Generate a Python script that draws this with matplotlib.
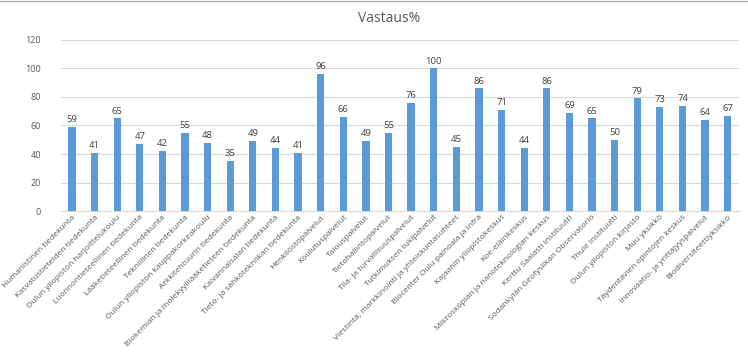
import matplotlib
matplotlib.use("Agg")
import matplotlib.pyplot as plt
from matplotlib.lines import Line2D

categories = [
    "Humanistinen tiedekunta",
    "Kasvatustieteiden tiedekunta",
    "Oulun yliopiston harjoittelukoulu",
    "Luonnontieteellinen tiedekunta",
    "Lääketieteellinen tiedekunta",
    "Teknillinen tiedekunta",
    "Oulun yliopiston kauppakorkeakoulu",
    "Arkkitehtuurin tiedekunta",
    "Biokemian ja molekyylilääketieteen tiedekunta",
    "Kaivannaisalan tiedekunta",
    "Tieto- ja sähkötekniikan tiedekunta",
    "Henkilöstöpalvelut",
    "Koulutuspalvelut",
    "Talouspalvelut",
    "Tietohallintopalvelut",
    "Tila- ja turvallisuuspalvelut",
    "Tutkimuksen tukipalvelut",
    "Viestintä, markkinointi ja yhteiskuntasuhteet",
    "Biocenter Oulu painoala ja Infra",
    "Kajaanin yliopistokeskus",
    "Koe-eläinkeskus",
    "Mikroskopian ja nanoteknologian keskus",
    "Kerttu Saalasti instituutti",
    "Sodankylän Geofysiikan Observatorio",
    "Thule instituutti",
    "Oulun yliopiston kirjasto",
    "Muu yksikkö",
    "Täydentävien opintojen keskus",
    "Innovaatio- ja yrittäjyyspalvelut",
    "Biodiversiteettiyksikkö",
]
values = [59, 41, 65, 47, 42, 55, 48, 35, 49, 44, 41, 96, 66, 49, 55, 76, 100,
          45, 86, 71, 44, 86, 69, 65, 50, 79, 73, 74, 64, 67]
yticks = [0, 20, 40, 60, 80, 100, 120]
title = "Vastaus%"

plt.rcParams['font.family'] = ['Open Sans', 'DejaVu Sans']
text_color = "#595959"

fig = plt.figure(figsize=(7.48, 3.53), dpi=100)
ax = fig.add_axes([0.081, 0.402, 0.907, 0.485])

x = list(range(len(categories)))
ax.bar(x, values, width=0.32, color="#5B9BD5", zorder=3)
for xi, v in zip(x, values):
    ax.text(xi, v + 2, str(v), ha="center", va="bottom", fontsize=6.8, color="#404040")

ax.set_xlim(-0.5, len(categories) - 0.5)
ax.set_ylim(0, 120)
ax.set_yticks(yticks)
ax.set_yticklabels([str(t) for t in yticks], fontsize=6.5, color=text_color)
ax.yaxis.grid(True, color="#D9D9D9", linewidth=0.8, zorder=0)
ax.tick_params(axis="y", length=0, pad=14)
ax.tick_params(axis="x", length=0, pad=2)
ax.set_xticks(x)
ax.set_xticklabels(categories, rotation=45, ha="right", rotation_mode="anchor",
                   fontsize=6, color=text_color)
for s in ["top", "right", "left"]:
    ax.spines[s].set_visible(False)
ax.spines["bottom"].set_color("#D9D9D9")

fig.text(0.52, 0.948, title, ha="center", va="center", fontsize=10, color=text_color)

# thin frame line at the top, as in the screenshot
fig.add_artist(Line2D([0, 1], [0.997, 0.997], transform=fig.transFigure,
                      color="#A6A6A6", linewidth=0.8))

fig.savefig("out.png", dpi=100)
